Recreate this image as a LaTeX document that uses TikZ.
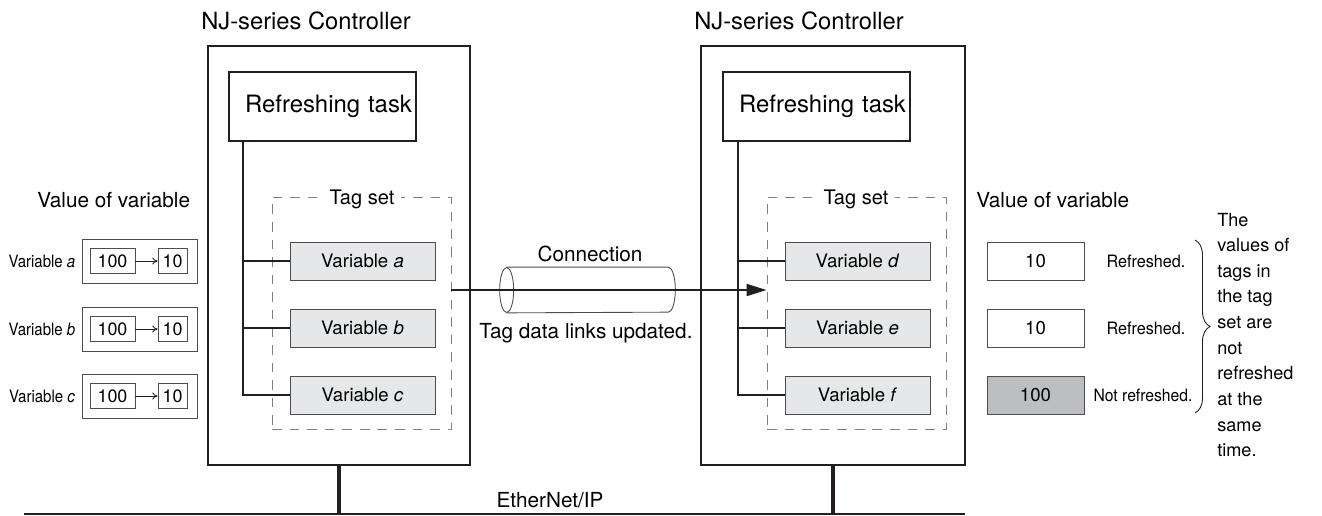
\documentclass[tikz,border=0pt]{standalone}
\usepackage{fontspec}
\setmainfont{TeX Gyre Heros}
\usetikzlibrary{arrows.meta,positioning,fit,decorations.pathreplacing}
\definecolor{ink}{HTML}{231F20}
\definecolor{varfill}{HTML}{E6E7E8}
\definecolor{oldfill}{HTML}{BDBEC0}
\definecolor{tagline}{HTML}{808080}

\begin{document}
\begin{tikzpicture}[x=0.02cm,y=-0.02cm,
  ctrl/.style={draw=ink,line width=1.1pt,inner sep=0pt},
  task/.style={draw=ink,line width=1.1pt,inner xsep=0.08cm,text width=3.58cm,
    align=right,minimum height=1.38cm,font=\fontsize{13.6}{16}\selectfont},
  tagset/.style={draw=tagline,line width=0.55pt,dash pattern=on 5.5pt off 4.5pt,inner sep=0pt},
  taglbl/.style={fill=white,inner xsep=4pt,inner ysep=1pt,font=\fontsize{11.4}{13}\selectfont},
  var/.style={draw=ink!80,fill=varfill,line width=0.5pt,minimum width=2.9cm,
    minimum height=0.76cm,font=\fontsize{10.6}{12}\selectfont},
  val/.style={draw=ink!80,line width=0.5pt,minimum width=1.94cm,
    minimum height=0.76cm,font=\fontsize{10.6}{12}\selectfont},
  valframe/.style={draw=ink!80,line width=0.5pt,minimum width=2.3cm,minimum height=0.88cm},
  cell/.style={draw=ink!80,line width=0.5pt,minimum height=0.5cm,inner sep=0pt,
    font=\fontsize{10.2}{12}\selectfont},
  link/.style={draw=ink,line width=1.1pt},
  stub/.style={draw=ink,line width=2.6pt},
  chg/.style={draw=ink,line width=0.5pt,-{To[length=3pt,width=4pt]}},
  flow/.style={draw=ink,line width=1.1pt,-{Triangle[length=0.4cm,width=0.24cm]}},
  pipe/.style={minimum width=3.5cm,minimum height=0.9cm,inner sep=0pt},
  pipeline/.style={draw=ink!80,line width=0.5pt},
  ctitle/.style={font=\fontsize{13.5}{16}\selectfont,inner sep=0pt},
  capt/.style={font=\fontsize{11.8}{14}\selectfont,inner sep=0pt},
  side/.style={font=\fontsize{9.7}{11}\selectfont,inner sep=0pt}]
  \useasboundingbox (0,0) rectangle (1322,515);

  % controllers
  \node[ctitle,anchor=west] (titleL) at (201,21) {NJ-series Controller};
  \node[ctitle,anchor=west] (titleR) at (694,21) {NJ-series Controller};
  \node[ctrl,fit={(208,46)(470,465)}] (ctrlL) {};
  \node[ctrl,fit={(701,46)(965,465)}] (ctrlR) {};
  \node[task,anchor=north west] (refL) at (228,71) {Refreshing task};
  \node[task,anchor=north west] (refR) at (722,71) {Refreshing task};

  % tag sets
  \node[tagset,fit={(272,197)(451,429)}] (tagL) {};
  \node[tagset,fit={(767,197)(946,429)}] (tagR) {};
  \node[taglbl] (tagLlbl) at (362,199) {Tag set};
  \node[taglbl] (tagRlbl) at (856,199) {Tag set};

  \node[var] (varA) at (362.5,261) {Variable \textit{a}};
  \node[var] (varB) at (362.5,328) {Variable \textit{b}};
  \node[var] (varC) at (362.5,395) {Variable \textit{c}};
  \node[var] (varD) at (857.5,261) {Variable \textit{d}};
  \node[var] (varE) at (857.5,328) {Variable \textit{e}};
  \node[var] (varF) at (857.5,395) {Variable \textit{f}};

  \draw[link] ([xshift=0.3cm]refL.south west) |- (varC.west);
  \draw[link] ([xshift=0.3cm]refL.south west |- varA.west) -- (varA.west);
  \draw[link] ([xshift=0.3cm]refL.south west |- varB.west) -- (varB.west);
  \draw[link] ([xshift=0.32cm]refR.south west) |- (varF.west);
  \draw[link] ([xshift=0.32cm]refR.south west |- varD.west) -- (varD.west);
  \draw[link] ([xshift=0.32cm]refR.south west |- varE.west) -- (varE.west);

  % connection
  \node[pipe] (conn) at (587.5,290) {};
  \draw[pipeline] ([xshift=0.14cm]conn.north west) -- ([xshift=-0.14cm]conn.north east)
    arc[start angle=90,end angle=-90,x radius=0.14cm,y radius=0.45cm]
    -- ([xshift=0.14cm]conn.south west);
  \draw[pipeline] ([xshift=0.14cm]conn.west) ellipse[x radius=0.14cm,y radius=0.45cm];
  \node[capt] (connlbl) at (590,254) {Connection};
  \node[capt] (updlbl) at (586,333) {Tag data links updated.};
  \draw[flow] (tagL.east |- conn.center) -- (tagR.west |- conn.center);

  % left values
  \node[capt,anchor=west] (valLlbl) at (37,200) {Value of variable};
  \node[side] (labA) at (42,261) {\scalebox{0.88}[1]{Variable \textit{a}}};
  \node[side] (labB) at (42,329) {\scalebox{0.88}[1]{Variable \textit{b}}};
  \node[side] (labC) at (42,396) {\scalebox{0.88}[1]{Variable \textit{c}}};
  \node[valframe] (boxA) at (139.5,261) {};
  \node[valframe] (boxB) at (139.5,329) {};
  \node[valframe] (boxC) at (139.5,396) {};
  \node[cell,minimum width=0.9cm] (oldA) at (112.5,261) {100};
  \node[cell,minimum width=0.58cm] (newA) at (172.5,261) {10};
  \node[cell,minimum width=0.9cm] (oldB) at (112.5,329) {100};
  \node[cell,minimum width=0.58cm] (newB) at (172.5,329) {10};
  \node[cell,minimum width=0.9cm] (oldC) at (112.5,396) {100};
  \node[cell,minimum width=0.58cm] (newC) at (172.5,396) {10};
  \draw[chg] (oldA) -- (newA);
  \draw[chg] (oldB) -- (newB);
  \draw[chg] (oldC) -- (newC);

  % right values
  \node[capt,anchor=west] (valRlbl) at (976,200) {Value of variable};
  \node[val] (valD) at (1035.5,261) {10};
  \node[val] (valE) at (1035.5,328) {10};
  \node[val,fill=oldfill] (valF) at (1035.5,395) {100};
  \node[side] (stD) at (1146,261) {\scalebox{0.95}[1]{Refreshed.}};
  \node[side] (stE) at (1146,328) {\scalebox{0.95}[1]{Refreshed.}};
  \node[side] (stF) at (1143,395) {\scalebox{0.92}[1]{Not refreshed.}};
  \coordinate (braceT) at (1195,240);
  \coordinate (braceB) at (1195,413);
  \draw[ink,line width=0.5pt,decorate,decoration={brace,amplitude=0.3cm}]
    (braceT) -- (braceB);
  \node[anchor=west,align=left,inner sep=0pt,font=\fontsize{10.3}{14.6}\selectfont]
    (note) at (1217,335) {The\\values of\\tags in\\the tag\\set are\\not\\refreshed\\at the\\same\\time.};

  % network
  \coordinate (busW) at (24,514);
  \coordinate (busE) at (965,514);
  \draw[link] (busW) -- (busE);
  \draw[stub] (ctrlL.south) -- (ctrlL.south |- busW);
  \draw[stub] (ctrlR.south) -- (ctrlR.south |- busW);
  \node[capt] (netlbl) at (550,500) {EtherNet/IP};
\end{tikzpicture}
\end{document}
